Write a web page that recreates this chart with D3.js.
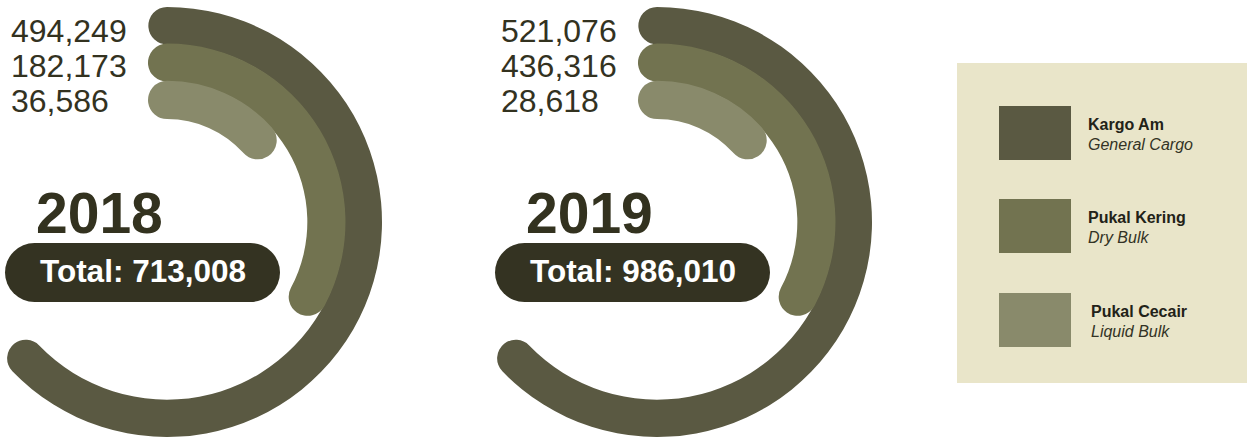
<!DOCTYPE html>
<html>
<head>
<meta charset="utf-8">
<script src="https://cdn.jsdelivr.net/npm/d3@7"></script>
<style>
  html, body { margin: 0; padding: 0; background: #ffffff; }
  svg { display: block; }
</style>
</head>
<body>
<svg id="chart" width="1247" height="437"></svg>
<script>
// ---- data ----
const years = ["2018", "2019"];
const categories = ["Kargo Am", "Pukal Kering", "Pukal Cecair"];
const categoriesEn = ["General Cargo", "Dry Bulk", "Liquid Bulk"];
const values2018 = [494249, 182173, 36586];
const values2019 = [521076, 436316, 28618];
const totals = [713008, 986010];

// ---- styles ----
const colors = ["#5a5942", "#727350", "#898a6b"];
const textDark = "#33321f";
const pillColor = "#343322";
const legendBg = "#e9e5c9";
const font = "'Liberation Sans', Arial, Helvetica, sans-serif";

const svg = d3.select("#chart");
const fmt = d3.format(",");

// ring geometry (design: arc length per category rank, as in the reference infographic)
const ringScale = d3.scaleBand().domain(categories).range([215, 103]);
const spanDeg = d3.scaleOrdinal().domain(categories).range([226, 118, 48]);
const colorScale = d3.scaleOrdinal().domain(categories).range(colors);
const groupX = d3.scaleOrdinal().domain(years).range([0, 490]);

const allValues = [values2018, values2019];

years.forEach((yr, yi) => {
  const ox = groupX(yr);
  const cx = ox + 167, cy = 222;
  const g = svg.append("g");
  const rings = g.append("g").attr("transform", `translate(${cx},${cy})`);
  categories.forEach((cat, ci) => {
    const r0 = ringScale(cat);
    const r1 = r0 + ringScale.bandwidth() + (ci > 0 ? 0.8 : 0);
    const rm = (r0 + r1) / 2;
    const cap = (r1 - r0) / 2;
    const capAng = cap / rm;
    const arc = d3.arc()
      .innerRadius(r0)
      .outerRadius(r1)
      .cornerRadius(cap)
      .startAngle(-capAng)
      .endAngle(spanDeg(cat) * Math.PI / 180 + capAng);
    rings.append("path")
      .attr("d", arc())
      .attr("fill", colorScale(cat));
  });

  // value labels
  const vals = allValues[yi];
  vals.forEach((v, i) => {
    g.append("text")
      .attr("x", ox + 11)
      .attr("y", 42 + i * 35)
      .attr("font-family", font)
      .attr("font-size", 32)
      .attr("fill", textDark)
      .text(fmt(v));
  });

  // year
  g.append("text")
    .attr("x", ox + 36)
    .attr("y", 233)
    .attr("font-family", font)
    .attr("font-weight", "bold")
    .attr("font-size", 57)
    .attr("fill", textDark)
    .text(yr);

  // total pill
  g.append("rect")
    .attr("x", ox + 5)
    .attr("y", 243)
    .attr("width", 275)
    .attr("height", 59)
    .attr("rx", 29.5)
    .attr("fill", pillColor);
  g.append("text")
    .attr("x", ox + 143)
    .attr("y", 282)
    .attr("text-anchor", "middle")
    .attr("font-family", font)
    .attr("font-weight", "bold")
    .attr("font-size", 31.5)
    .attr("fill", "#ffffff")
    .text("Total: " + fmt(totals[yi]));
});

// ---- legend ----
const legend = svg.append("g");
legend.append("rect")
  .attr("x", 957).attr("y", 63)
  .attr("width", 290).attr("height", 320)
  .attr("fill", legendBg);
const legendY = d3.scaleOrdinal().domain(categories).range([106, 199, 293]);
categories.forEach((cat, i) => {
  const y = legendY(cat);
  legend.append("rect")
    .attr("x", 999).attr("y", y)
    .attr("width", 72).attr("height", 54)
    .attr("fill", colorScale(cat));
  legend.append("text")
    .attr("x", 1088 + (i === 2 ? 3 : 0)).attr("y", y + 24)
    .attr("font-family", font)
    .attr("font-weight", "bold")
    .attr("font-size", 16)
    .attr("fill", "#222218")
    .text(cat);
  legend.append("text")
    .attr("x", 1088 + (i === 2 ? 3 : 0)).attr("y", y + 44)
    .attr("font-family", font)
    .attr("font-style", "italic")
    .attr("font-size", 16)
    .attr("fill", "#333325")
    .text(categoriesEn[i]);
});
</script>
</body>
</html>
